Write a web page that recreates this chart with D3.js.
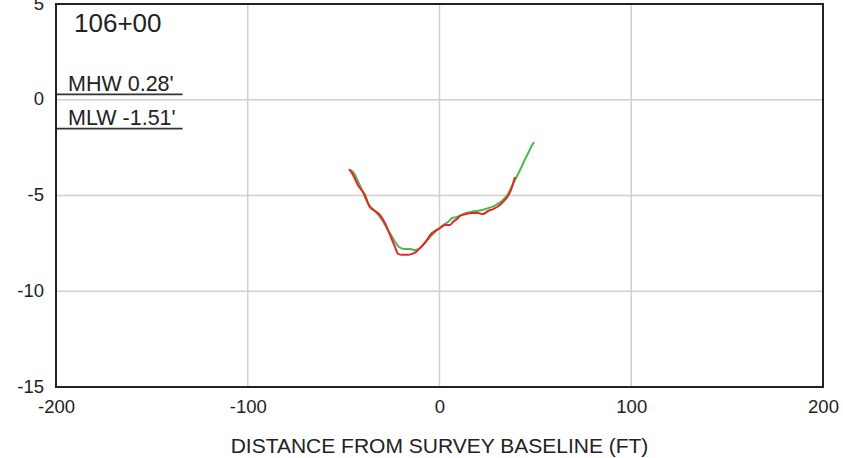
<!DOCTYPE html>
<html>
<head>
<meta charset="utf-8">
<script src="https://cdn.jsdelivr.net/npm/d3@7"></script>
<style>
  html, body { margin: 0; padding: 0; background: #fff; }
  svg { display: block; font-family: "Liberation Sans", Arial, sans-serif; }
</style>
</head>
<body>
<svg id="chart" width="843" height="458"></svg>
<script>
// Cross-section station 106+00: elevation vs. distance from survey baseline
const stationLabel = "106+00";
const xTicks = [-200, -100, 0, 100, 200];
const yTicks = [5, 0, -5, -10, -15];
const xTitle = "DISTANCE FROM SURVEY BASELINE (FT)";

const tideNames = ["MHW 0.28'", "MLW -1.51'"];
const tideLevels = [0.28, -1.51];
const tideLineEnd = -134;

// Profile 1 (green)
const greenX = [-46.7, -44.6, -42.6, -40.4, -38.3, -36.2, -33.1, -30.0, -26.9, -23.7, -21.1, -18.5, -15.4, -12.8, -10.2, -7.6, -5.0, -1.8, 1.3, 4.4, 6.5, 9.1, 12.3, 15.9, 19.0, 22.2, 25.3, 28.4, 31.0, 33.1, 35.7, 37.8, 39.9, 41.5, 43.0, 44.6, 46.2, 47.7, 49.3];
const greenY = [-3.67, -3.83, -4.24, -4.71, -5.23, -5.55, -5.87, -6.28, -6.80, -7.32, -7.69, -7.79, -7.79, -7.85, -7.74, -7.48, -7.17, -6.85, -6.59, -6.38, -6.18, -6.12, -5.97, -5.87, -5.81, -5.76, -5.66, -5.55, -5.39, -5.23, -4.92, -4.50, -4.09, -3.77, -3.46, -3.10, -2.79, -2.48, -2.21];

// Profile 2 (red)
const redX = [-47.2, -45.6, -42.6, -38.9, -36.4, -33.6, -31.0, -28.4, -25.8, -23.2, -21.6, -19.6, -16.4, -14.3, -12.3, -11.2, -9.1, -6.5, -4.4, -2.3, 0.3, 2.9, 5.5, 7.0, 9.1, 10.7, 13.8, 16.9, 20.1, 22.7, 25.3, 27.9, 30.0, 33.1, 35.7, 37.3, 38.3, 39.4];
const redY = [-3.62, -3.83, -4.45, -4.97, -5.60, -5.81, -6.02, -6.44, -7.06, -7.69, -8.05, -8.10, -8.10, -8.05, -7.95, -7.85, -7.64, -7.32, -7.01, -6.85, -6.70, -6.54, -6.54, -6.38, -6.23, -6.07, -5.97, -5.92, -5.92, -5.97, -5.81, -5.71, -5.60, -5.34, -5.03, -4.71, -4.40, -4.03];

const svg = d3.select("#chart");
const margin = { left: 56, right: 20, top: 4, bottom: 71 };
const W = 843, H = 458;
const x = d3.scaleLinear().domain([-200, 200]).range([margin.left, W - margin.right]);
const y = d3.scaleLinear().domain([-15, 5]).range([H - margin.bottom, margin.top]);

// Plain hyphen for negative numbers
const fmt = d => String(d);

// Grid lines
const grid = svg.append("g").attr("stroke", "#cfcfcf").attr("stroke-width", 1.5);
grid.selectAll("line.v").data(xTicks.slice(1, -1)).join("line")
  .attr("x1", d => x(d)).attr("x2", d => x(d))
  .attr("y1", y(5)).attr("y2", y(-15));
grid.selectAll("line.h").data(yTicks.slice(1, -1)).join("line")
  .attr("x1", x(-200)).attr("x2", x(200))
  .attr("y1", d => y(d)).attr("y2", d => y(d));

// Axes (labels only; frame drawn separately)
const xAxis = d3.axisBottom(x).tickValues(xTicks).tickSize(0).tickPadding(13).tickFormat(fmt);
const gx = svg.append("g").attr("transform", `translate(0,${y(-15)})`).call(xAxis);
gx.select(".domain").remove();
gx.selectAll("text").attr("font-size", 18.5).attr("fill", "#222").attr("font-family", "Liberation Sans, Arial, sans-serif");

const yAxis = d3.axisLeft(y).tickValues(yTicks).tickSize(0).tickPadding(12).tickFormat(fmt);
const gy = svg.append("g").attr("transform", `translate(${x(-200)},0)`).call(yAxis);
gy.select(".domain").remove();
gy.selectAll("text").attr("font-size", 18.5).attr("fill", "#222").attr("font-family", "Liberation Sans, Arial, sans-serif")
  .attr("dy", "0.28em");

// Tide reference lines with labels
tideLevels.forEach((lv, i) => {
  svg.append("line")
    .attr("x1", x(-200)).attr("x2", x(tideLineEnd))
    .attr("y1", y(lv)).attr("y2", y(lv))
    .attr("stroke", "#333").attr("stroke-width", 1.6);
  svg.append("text")
    .attr("x", x(-200) + 12).attr("y", y(lv) - 3.5)
    .attr("font-size", 21.5).attr("fill", "#222")
    .text(tideNames[i]);
});

// Station label
svg.append("text")
  .attr("x", x(-200) + 18).attr("y", 32)
  .attr("font-size", 26).attr("fill", "#222")
  .text(stationLabel);

// Profiles
const line = d3.line().x(d => x(d[0])).y(d => y(d[1])).curve(d3.curveMonotoneX);
svg.append("path")
  .datum(d3.zip(greenX, greenY))
  .attr("fill", "none").attr("stroke", "#4db848").attr("stroke-width", 2)
  .attr("d", line);
svg.append("path")
  .datum(d3.zip(redX, redY))
  .attr("fill", "none").attr("stroke", "#e8262a").attr("stroke-width", 2)
  .attr("d", line);

// Plot frame
svg.append("rect")
  .attr("x", x(-200)).attr("y", y(5))
  .attr("width", x(200) - x(-200)).attr("height", y(-15) - y(5))
  .attr("fill", "none").attr("stroke", "#222").attr("stroke-width", 2);

// Axis title
svg.append("text")
  .attr("x", (x(-200) + x(200)) / 2).attr("y", 453)
  .attr("text-anchor", "middle").attr("font-size", 21).attr("fill", "#222")
  .text(xTitle);
</script>
</body>
</html>
